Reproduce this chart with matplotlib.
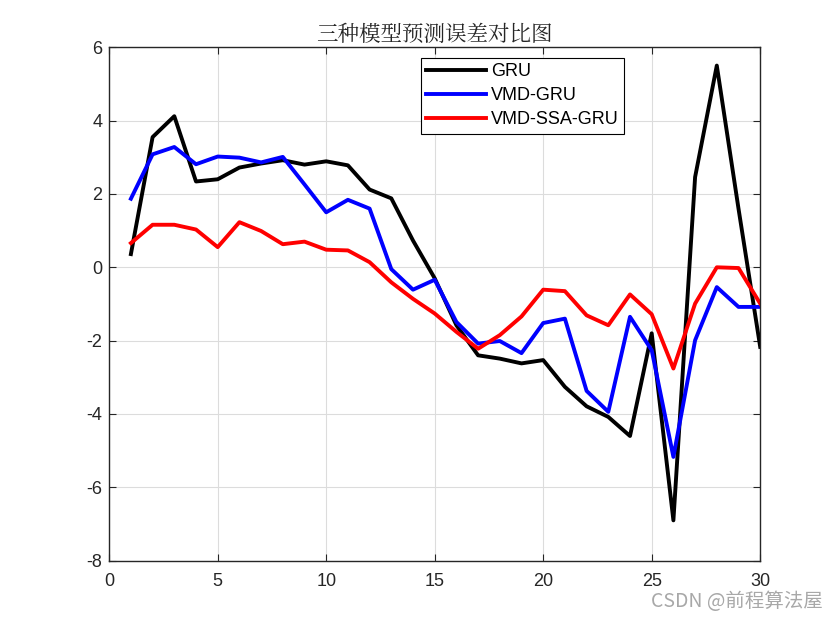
import numpy as np
import matplotlib
matplotlib.use("Agg")
import matplotlib.pyplot as plt

plt.rcParams['font.family'] = ['Liberation Sans', 'Noto Sans CJK SC', 'DejaVu Sans']
plt.rcParams['axes.unicode_minus'] = False

# sample index 1..30
idx = np.arange(1, 31)

gru = [0.36, 3.55, 4.12, 2.34, 2.40, 2.72, 2.83, 2.92, 2.80, 2.89,
       2.78, 2.12, 1.88, 0.73, -0.30, -1.58, -2.40, -2.49, -2.62, -2.53,
       -3.26, -3.79, -4.08, -4.60, -1.80, -6.90, 2.46, 5.50, 1.60, -2.17]
vmd_gru = [1.87, 3.08, 3.28, 2.81, 3.02, 2.99, 2.86, 3.01, 2.26, 1.50,
           1.84, 1.60, -0.05, -0.61, -0.34, -1.49, -2.08, -2.01, -2.34, -1.52,
           -1.40, -3.37, -3.94, -1.35, -2.26, -5.17, -1.99, -0.54, -1.08, -1.08]
vmd_ssa_gru = [0.66, 1.16, 1.16, 1.03, 0.55, 1.23, 0.99, 0.63, 0.70, 0.48,
               0.46, 0.14, -0.41, -0.86, -1.26, -1.76, -2.22, -1.85, -1.34, -0.61,
               -0.65, -1.31, -1.58, -0.74, -1.28, -2.76, -0.99, 0.00, -0.02, -0.99]

labels = ["GRU", "VMD-GRU", "VMD-SSA-GRU"]
colors = ["black", "blue", "red"]

fig = plt.figure(figsize=(8.4, 6.3), dpi=100)
ax = fig.add_axes([0.13, 0.11, 0.775, 0.815])

for y, lab, c in zip([gru, vmd_gru, vmd_ssa_gru], labels, colors):
    ax.plot(idx, y, color=c, linewidth=2.8, label=lab)

ax.set_xlim(0, 30)
ax.set_ylim(-8, 6)
ax.set_xticks(np.arange(0, 31, 5))
ax.set_yticks(np.arange(-8, 7, 2))
ax.grid(True, color="#dcdcdc", linewidth=0.8)
ax.tick_params(direction="in", top=True, right=True, labelsize=13,
               colors="#262626", length=5)
ax.tick_params(axis="x", pad=9)
ax.tick_params(axis="y", pad=5)
for s in ax.spines.values():
    s.set_color("#262626")
    s.set_linewidth(1.0)

ax.set_title("三种模型预测误差对比图", fontsize=15.5,
             family=['Noto Serif CJK SC', 'Noto Sans CJK SC', 'DejaVu Sans'],
             color="#262626", pad=5)

leg = ax.legend(loc="upper right", bbox_to_anchor=(0.791, 0.979),
                fontsize=13, handlelength=3.3, fancybox=False,
                framealpha=1, edgecolor="black", borderaxespad=0,
                borderpad=0.3, labelspacing=0.38, handletextpad=0.3)
leg.get_frame().set_linewidth(0.8)

fig.text(0.98, 0.028, "CSDN @前程算法屋", ha="right", va="bottom",
         fontsize=14, color="#a8a8a8",
         family=['Noto Sans CJK SC', 'DejaVu Sans'])

fig.savefig("out.png", dpi=100)
